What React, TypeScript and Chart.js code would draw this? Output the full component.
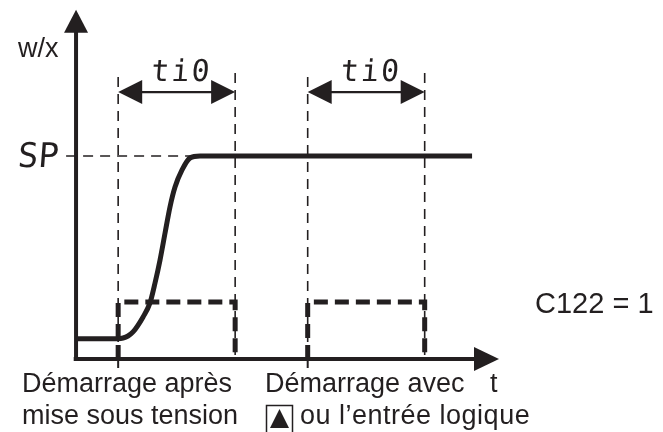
import React, { useEffect, useRef } from "react";
import { Chart, registerables } from "chart.js";

Chart.register(...registerables);

// Time axis (t) and process value axis (w/x), arbitrary units
const curveT = [0, 3.6, 4.02, 4.44, 4.87, 5.73, 6.32, 6.75, 7.18, 7.61, 8.03, 8.46, 9.06, 9.74, 10.6, 33.85];
const curveW = [10, 10, 10.3, 11.3, 13.3, 20.7, 27.6, 37.4, 48.8, 62.1, 74.9, 84.7, 93.1, 99.0, 100, 100];

const SP = 100;
const windowStarts = [3.6, 19.8];
const windowEnds = [13.6, 29.8];
const pulseLevel = 28;
const arrowLevel = 131.5;
const guideTop = 142;
const yAxisTip = 172;
const xAxisTip = 36.15;

const labelTi0 = "ti0";
const labelSP = "SP";
const labelY = "w/x";
const labelX = "t";
const labelC = "C122 = 1";
const labelStart1 = ["Démarrage après", "mise sous tension"];
const labelStart2 = ["Démarrage avec", "ou l’entrée logique"];

const X_MIN = -6.5;
const X_MAX = 50.17;
const Y_MIN = -36;
const Y_MAX = 176.85;

const FONT = "'Liberation Sans', Arial, Helvetica, sans-serif";

function pts(xs: number[], ys: number[]) {
  return xs.map((x, i) => ({ x, y: ys[i] }));
}

export default function App() {
  const ref = useRef<HTMLCanvasElement | null>(null);

  useEffect(() => {
    if (!ref.current) return;
    const thin = { borderColor: "#231f20", borderWidth: 1.6, borderDash: [10, 7], pointRadius: 0, fill: false, tension: 0 };
    const datasets: any[] = [];

    // axes
    datasets.push({ data: pts([0, 0], [-1, yAxisTip - 10]), borderColor: "#231f20", borderWidth: 4, pointRadius: 0, borderCapStyle: "butt" });
    datasets.push({ data: pts([-0.2, xAxisTip - 2], [0, 0]), borderColor: "#231f20", borderWidth: 4, pointRadius: 0, borderCapStyle: "butt" });

    // SP guide
    datasets.push({ ...thin, data: pts([-0.85, 10.6], [SP, SP]) });

    windowStarts.forEach((s, i) => {
      const e = windowEnds[i];
      datasets.push({ ...thin, data: pts([s, s], [0, guideTop]) });
      datasets.push({ ...thin, data: pts([e, e], [2, guideTop]) });
      datasets.push({ data: pts([s, s], [0, -4.5]), borderColor: "#231f20", borderWidth: 2, pointRadius: 0 });
      datasets.push({ data: pts([s + 1.5, e - 1.5], [arrowLevel, arrowLevel]), borderColor: "#231f20", borderWidth: 2.2, pointRadius: 0 });
      datasets.push({
        data: pts([s, s, e, e], [0, pulseLevel, pulseLevel, 2]),
        borderColor: "#231f20",
        borderWidth: 5,
        borderDash: [14, 7],
        pointRadius: 0,
        borderCapStyle: "butt",
        borderJoinStyle: "miter",
      });
    });

    // process value curve
    datasets.push({
      data: pts(curveT, curveW),
      borderColor: "#231f20",
      borderWidth: 5,
      pointRadius: 0,
      cubicInterpolationMode: "monotone",
      borderCapStyle: "butt",
    });

    const overlay = {
      id: "overlay",
      afterDatasetsDraw(chart: any) {
        const ctx = chart.ctx as CanvasRenderingContext2D;
        const xs = chart.scales.x;
        const ys = chart.scales.y;
        const px = (v: number) => xs.getPixelForValue(v);
        const py = (v: number) => ys.getPixelForValue(v);
        ctx.save();
        ctx.fillStyle = "#231f20";
        ctx.strokeStyle = "#231f20";

        const tri = (a: number[], b: number[], c: number[]) => {
          ctx.beginPath();
          ctx.moveTo(a[0], a[1]);
          ctx.lineTo(b[0], b[1]);
          ctx.lineTo(c[0], c[1]);
          ctx.closePath();
          ctx.fill();
        };
        const yx = px(0), yt = py(yAxisTip);
        tri([yx, yt], [yx - 12, yt + 23], [yx + 12, yt + 23]);
        const xt = px(xAxisTip), xy = py(0);
        tri([xt, xy], [xt - 25, xy - 12], [xt - 25, xy + 12]);

        windowStarts.forEach((s, i) => {
          const e = windowEnds[i];
          const ay = py(arrowLevel);
          const l = px(s), r = px(e);
          tri([l, ay], [l + 24, ay - 12], [l + 24, ay + 12]);
          tri([r, ay], [r - 24, ay - 12], [r - 24, ay + 12]);
          ctx.save();
          ctx.font = `300 30px 'DejaVu Sans Mono', monospace`;
          ctx.textAlign = "center";
          ctx.textBaseline = "alphabetic";
          const cx = (l + r) / 2 + 4;
          ctx.translate(cx, py(arrowLevel) - 11);
          ctx.transform(1, 0, -0.08, 1, 0, 0);
          (ctx as any).letterSpacing = "2px";
          ctx.fillText(labelTi0, 0, 0);
          ctx.restore();
        });

        ctx.save();
        ctx.font = `300 34px 'DejaVu Sans Mono', monospace`;
        ctx.textAlign = "left";
        ctx.translate(17, py(SP) + 11);
        ctx.transform(1, 0, -0.08, 1, 0, 0);
        ctx.fillText(labelSP, 0, 0);
        ctx.restore();

        ctx.font = `27px ${FONT}`;
        ctx.textAlign = "left";
        ctx.textBaseline = "alphabetic";
        ctx.fillText(labelY, 18, 57);
        ctx.fillText(labelX, 490, 392);

        ctx.font = `29px ${FONT}`;
        ctx.fillText(labelC, 535, 313);

        ctx.font = `27px ${FONT}`;
        ctx.fillText(labelStart1[0], 22, 392);
        ctx.fillText(labelStart1[1], 22, 424);
        ctx.fillText(labelStart2[0], 265, 392);
        (ctx as any).letterSpacing = "0.5px";
        ctx.fillText(labelStart2[1], 300, 424);
        (ctx as any).letterSpacing = "0px";

        ctx.lineWidth = 1.5;
        ctx.strokeRect(266.5, 405.5, 26, 30);
        tri([279.5, 409], [270, 428], [289, 428]);

        ctx.restore();
      },
    };

    const chart = new Chart(ref.current, {
      type: "line",
      data: { datasets },
      options: {
        animation: false,
        responsive: false,
        maintainAspectRatio: false,
        layout: { padding: 0 },
        plugins: { legend: { display: false }, tooltip: { enabled: false } },
        scales: {
          x: { type: "linear", min: X_MIN, max: X_MAX, display: false },
          y: { type: "linear", min: Y_MIN, max: Y_MAX, display: false },
        },
      },
      plugins: [overlay],
    });
    return () => chart.destroy();
  }, []);

  return (
    <div style={{ position: "fixed", left: 0, top: 0, width: 663, height: 432, background: "#fff" }}>
      <canvas ref={ref} width={663} height={432} />
    </div>
  );
}
